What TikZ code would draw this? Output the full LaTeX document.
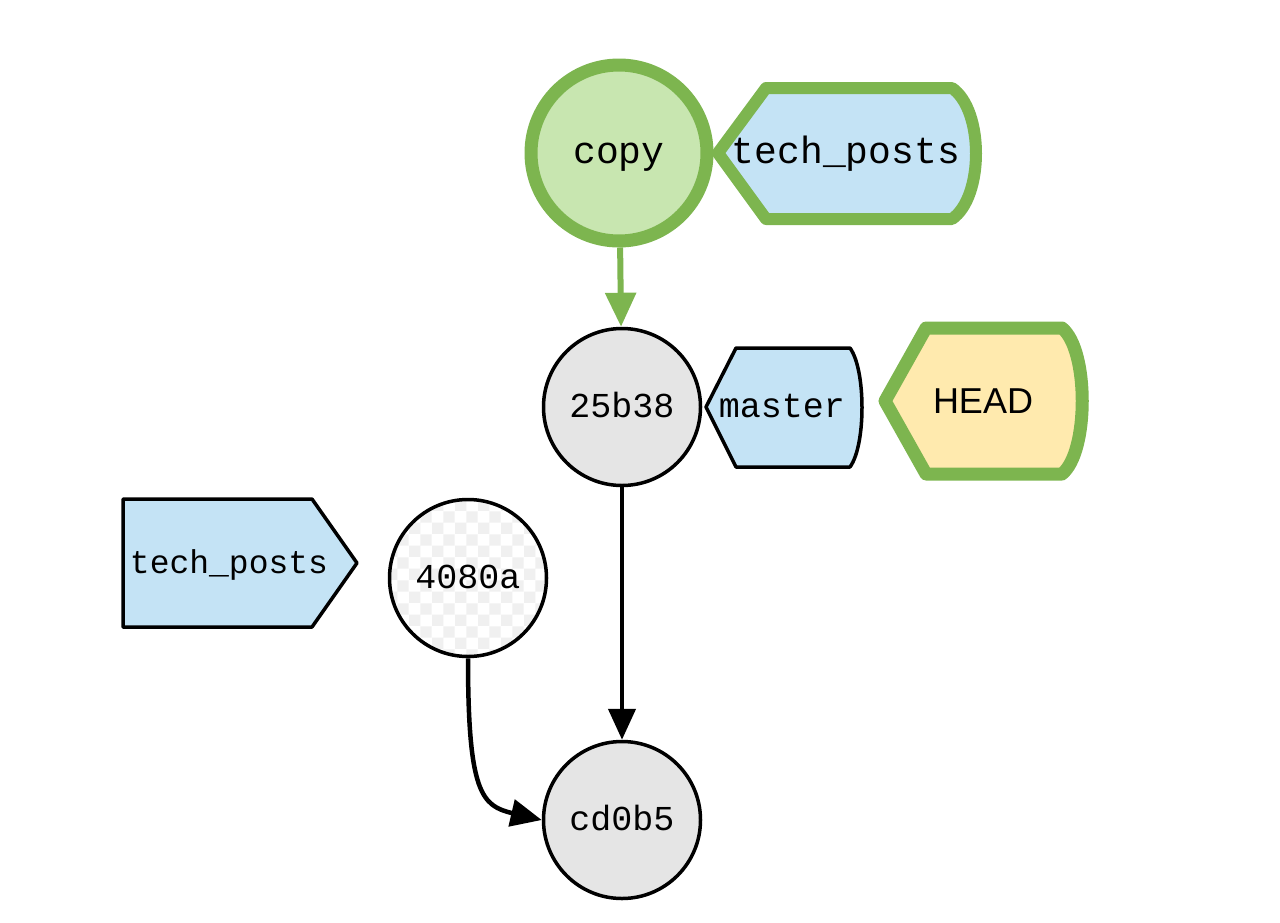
\documentclass[tikz,border=0pt]{standalone}
\usepackage{fontspec}
\setmonofont{Liberation Mono}
\setsansfont{Liberation Sans}
\usetikzlibrary{arrows.meta,patterns}
\definecolor{tagblue}{HTML}{C4E3F5}
\definecolor{headgreen}{HTML}{7DB54F}
\definecolor{copyfill}{HTML}{C8E6B0}
\definecolor{headyellow}{HTML}{FFEAAE}
\definecolor{commitgray}{HTML}{E5E5E5}

\begin{document}
\begin{tikzpicture}[x=0.5pt, y=-0.5pt,
	commit/.style={circle, draw, line width=1.75pt, fill=commitgray, minimum size=78.5pt, inner sep=0pt, text height=13pt, text depth=3pt, font=\ttfamily\fontsize{17.5}{20}\selectfont},
	current/.style={commit, draw=headgreen, line width=6.5pt, fill=copyfill, minimum size=88pt, font=\ttfamily\fontsize{19}{22}\selectfont},
	branch/.style={draw, line width=1.75pt, fill=tagblue, line join=round},
	active/.style={branch, draw=headgreen, line width=6pt},
	tagtext/.style={inner sep=0pt, text height=13pt, text depth=3pt, font=\ttfamily\fontsize{17.5}{20}\selectfont},
	>={Triangle[width=13.5pt, length=15.5pt]}]
	    \useasboundingbox (0,0) rectangle (1280,922);
	    \node[current] (copy) at (619, 153) {copy};
	    \node[commit] (25b38) at (622, 407) {25b38};
	    \node[commit, preaction={fill=white}, pattern=checkerboard, pattern color=black!6] (4080a) at (468, 578) {4080a};
	    \node[commit] (cd0b5) at (622, 820) {cd0b5};
	    % branch tags
	    \draw[active] (718,153) -- (766,88) -- (952,88) .. controls (984,110) and (984,197) .. (952,219) -- (766,219) -- cycle;
	    \node[tagtext, font=\ttfamily\fontsize{19}{22}\selectfont] (posts) at (846, 153) {tech\_posts};
	    \draw[branch] (706,407) -- (736,348) -- (850,348) .. controls (866,370) and (866,445) .. (850,467) -- (736,467) -- cycle;
	    \node[tagtext] (master) at (782, 407) {master};
	    \draw[active, fill=headyellow, line width=6.5pt] (885,401) -- (926,328) -- (1062,328) .. controls (1089,350) and (1089,452) .. (1062,474) -- (926,474) -- cycle;
	    \node[inner sep=0pt, font=\sffamily\fontsize{18}{21}\selectfont] (head) at (983, 401) {HEAD};
	    \draw[branch] (123,499) -- (312,499) -- (357,563) -- (312,627) -- (123,627) -- cycle;
	    \node[tagtext, font=\ttfamily\fontsize{16.5}{19}\selectfont] (oldposts) at (229, 563) {tech\_posts};
	    % parents
	    \draw[->, line width=3pt, headgreen, >={Triangle[width=15pt, length=17pt]}] (copy) -- (25b38);
	    \draw[->, line width=2.25pt] (25b38) -- (cd0b5);
	    \draw[->, line width=2.25pt] (4080a.south) .. controls +(0,135) and +(-60,-14) .. (cd0b5.west);
	\end{tikzpicture}
\end{document}
